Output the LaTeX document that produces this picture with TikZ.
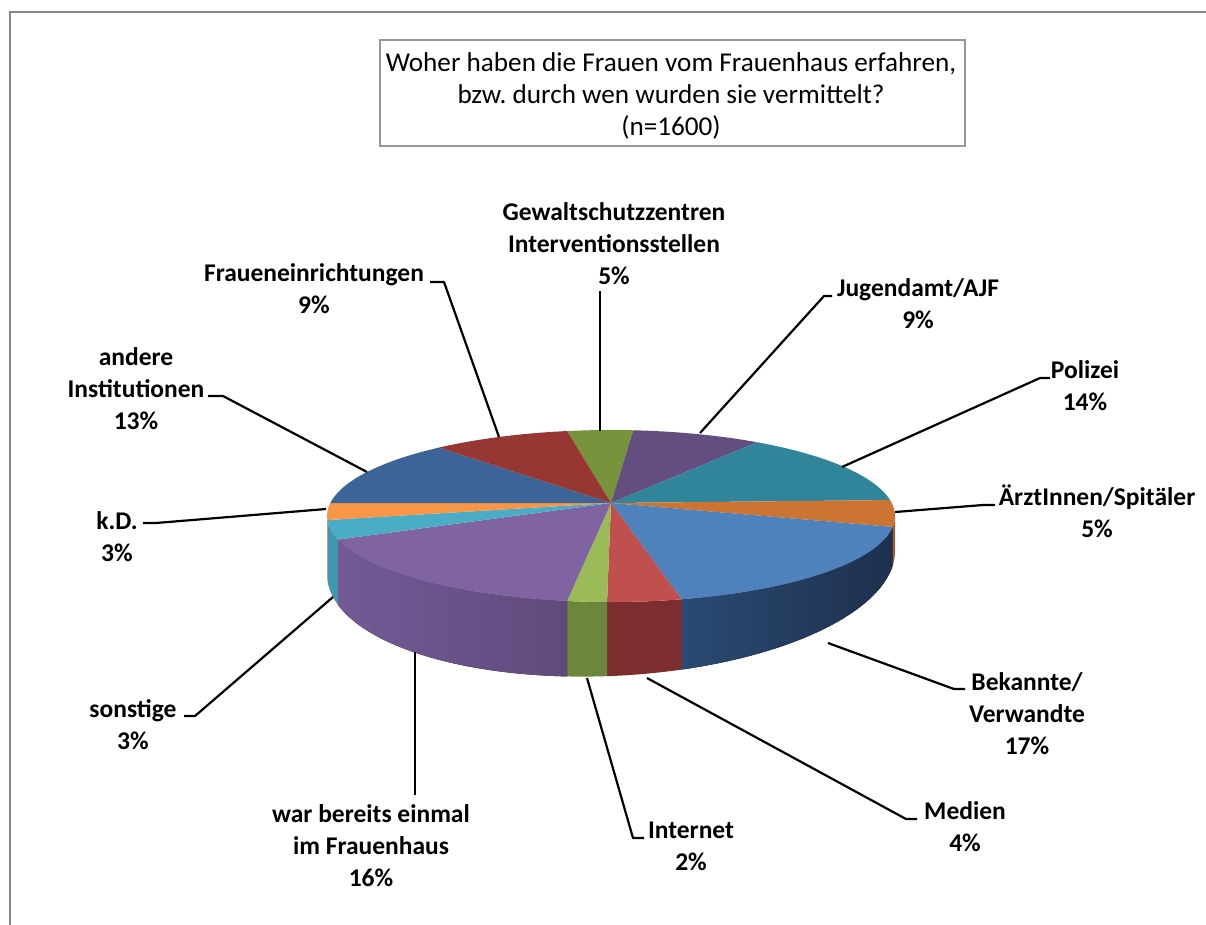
\documentclass[tikz,border=0pt]{standalone}
\usepackage{fontspec}
\setmainfont{Carlito}
\frenchspacing
\definecolor{cG}{RGB}{119,147,60}
\definecolor{cJ}{RGB}{100,78,128}
\definecolor{cP}{RGB}{49,133,155}
\definecolor{cA}{RGB}{204,116,50}
\definecolor{cB}{RGB}{79,129,189}
\definecolor{cM}{RGB}{192,80,77}
\definecolor{cI}{RGB}{155,187,89}
\definecolor{cW}{RGB}{128,100,162}
\definecolor{cS}{RGB}{75,172,198}
\definecolor{cK}{RGB}{247,150,70}
\definecolor{cN}{RGB}{60,100,152}
\definecolor{cF}{RGB}{150,55,52}
\definecolor{sA}{RGB}{165,92,38}
\definecolor{sBl}{RGB}{42,74,115}
\definecolor{sBr}{RGB}{30,48,78}
\definecolor{sM}{RGB}{125,45,45}
\definecolor{sI}{RGB}{108,135,60}
\definecolor{sWl}{RGB}{115,90,150}
\definecolor{sWr}{RGB}{95,74,124}
\definecolor{sS}{RGB}{62,150,175}
\definecolor{sK}{RGB}{220,130,60}
\definecolor{framegray}{RGB}{135,135,135}
\definecolor{boxgray}{RGB}{150,150,150}
\newcommand\pieslice[3]{\fill[#1] (apex) -- ({611+284*cos(#2)},{-516+86*sin(#2)}) arc[start angle=#2,end angle=#3,x radius=284pt,y radius=86pt] -- cycle;}
\newcommand\pieside[3]{\fill[#1] ({611+284*cos(#2)},{-516+86*sin(#2)}) arc[start angle=#2,end angle=#3,x radius=284pt,y radius=86pt] -- plot[domain=#3:#2,samples=40,variable=\t] ({611+284*cos(\t)},{-562.5+113.5*sin(\t)+11.5*cos(\t)}) -- cycle;}
\begin{document}
\begin{tikzpicture}[x=1pt,y=1pt,
  lbl/.style={font=\bfseries\fontsize{25.5}{32}\selectfont, align=center, inner sep=0pt, text=black},
  lead/.style={line width=2.2pt, black, line join=round},
  framestyle/.style={line width=2.5pt, framegray},
]
\useasboundingbox (0,0) rectangle (1206,-924);
\fill[white] (0,0) rectangle (1206,-924);
\draw[framestyle] (10,-930) -- (10,-12) -- (1212,-12);

% title
\node[draw=boxgray, line width=1.5pt, minimum width=585pt, minimum height=106pt, inner sep=0pt] (titlebox) at (672.5,-93) {};
\node[font=\fontsize{27.2}{32}\selectfont, align=center, inner sep=0pt] (title) at (671,-97)
  {Woher haben die Frauen vom Frauenhaus erfahren,\strut\\bzw. durch wen wurden sie vermittelt?\strut\\(n=1600)\strut};

% pie
\coordinate (apex) at (611,-503);
% sides
\pieside{sA}{0}{-7.3}
\pieside{left color=sBl,right color=sBr}{-7.3}{-75.6}
\pieside{sM}{-75.6}{-90.8}
\pieside{sI}{-90.8}{-98.9}
\pieside{left color=sWl,right color=sWr}{-98.9}{-164.1}
\pieside{sS}{-164.1}{-177.3}
\pieside{sK}{-177.3}{-180}
% tops
\pieslice{cG}{98.9}{85.5}
\pieslice{cJ}{85.5}{59}
\pieslice{cP}{59}{10.7}
\pieslice{cA}{10.7}{-7.3}
\pieslice{cB}{-7.3}{-75.6}
\pieslice{cM}{-75.6}{-90.8}
\pieslice{cI}{-90.8}{-98.9}
\pieslice{cW}{-98.9}{-164.1}
\pieslice{cS}{-164.1}{-177.3}
\pieslice{cK}{-177.3}{-188.7}
\pieslice{cN}{-188.7}{-232.7}
\pieslice{cF}{-232.7}{-261.1}

% labels
\node[lbl] (gew) at (614,-246) {Gewaltschutzzentren\strut\\Interventionsstellen\strut\\5\%\strut};
\node[lbl] (jug) at (918,-306) {Jugendamt/AJF\strut\\9\%\strut};
\node[lbl] (pol) at (1085,-388) {Polizei\strut\\14\%\strut};
\node[lbl] (arz) at (1097,-515) {ÄrztInnen/Spitäler\strut\\5\%\strut};
\node[lbl] (bek) at (1027,-716) {Bekannte/\strut\\Verwandte\strut\\17\%\strut};
\node[lbl] (med) at (965,-829) {Medien\strut\\4\%\strut};
\node[lbl] (int) at (691,-848) {Internet\strut\\2\%\strut};
\node[lbl] (war) at (371,-848) {war bereits einmal\strut\\im Frauenhaus\strut\\16\%\strut};
\node[lbl] (son) at (133,-727) {sonstige\strut\\3\%\strut};
\node[lbl] (kd) at (117,-539) {k.D.\strut\\3\%\strut};
\node[lbl] (and) at (136,-391) {andere\strut\\Institutionen\strut\\13\%\strut};
\node[lbl] (fra) at (314,-291) {Fraueneinrichtungen\strut\\9\%\strut};

% leader coordinates
\coordinate (gewP) at (600,-431); \coordinate (gewE) at (600,-291);
\coordinate (jugP) at (700,-433); \coordinate (jugK) at (824,-296); \coordinate (jugE) at (832,-296);
\coordinate (polP) at (842,-467); \coordinate (polK) at (1040,-378); \coordinate (polE) at (1050,-378);
\coordinate (arzP) at (895,-512); \coordinate (arzK) at (983,-505); \coordinate (arzE) at (995,-505);
\coordinate (bekP) at (828,-643); \coordinate (bekK) at (954,-689); \coordinate (bekE) at (965,-689);
\coordinate (medP) at (647,-678); \coordinate (medK) at (906,-819); \coordinate (medE) at (917,-819);
\coordinate (intP) at (587,-678); \coordinate (intK) at (633,-838); \coordinate (intE) at (644,-838);
\coordinate (warP) at (415,-652); \coordinate (warE) at (415,-795);
\coordinate (sonP) at (333,-597); \coordinate (sonK) at (195,-716); \coordinate (sonE) at (184,-716);
\coordinate (kdP) at (326,-509); \coordinate (kdK) at (156,-523); \coordinate (kdE) at (143,-523);
\coordinate (andP) at (367,-472); \coordinate (andK) at (223,-396); \coordinate (andE) at (208,-396);
\coordinate (fraP) at (499,-437); \coordinate (fraK) at (444,-282); \coordinate (fraE) at (430,-282);

\draw[lead] (gewP) -- (gewE);
\draw[lead] (jugP) -- (jugK) -- (jugE);
\draw[lead] (polP) -- (polK) -- (polE);
\draw[lead] (arzP) -- (arzK) -- (arzE);
\draw[lead] (bekP) -- (bekK) -- (bekE);
\draw[lead] (medP) -- (medK) -- (medE);
\draw[lead] (intP) -- (intK) -- (intE);
\draw[lead] (warP) -- (warE);
\draw[lead] (sonP) -- (sonK) -- (sonE);
\draw[lead] (kdP) -- (kdK) -- (kdE);
\draw[lead] (andP) -- (andK) -- (andE);
\draw[lead] (fraP) -- (fraK) -- (fraE);
\end{tikzpicture}
\end{document}
